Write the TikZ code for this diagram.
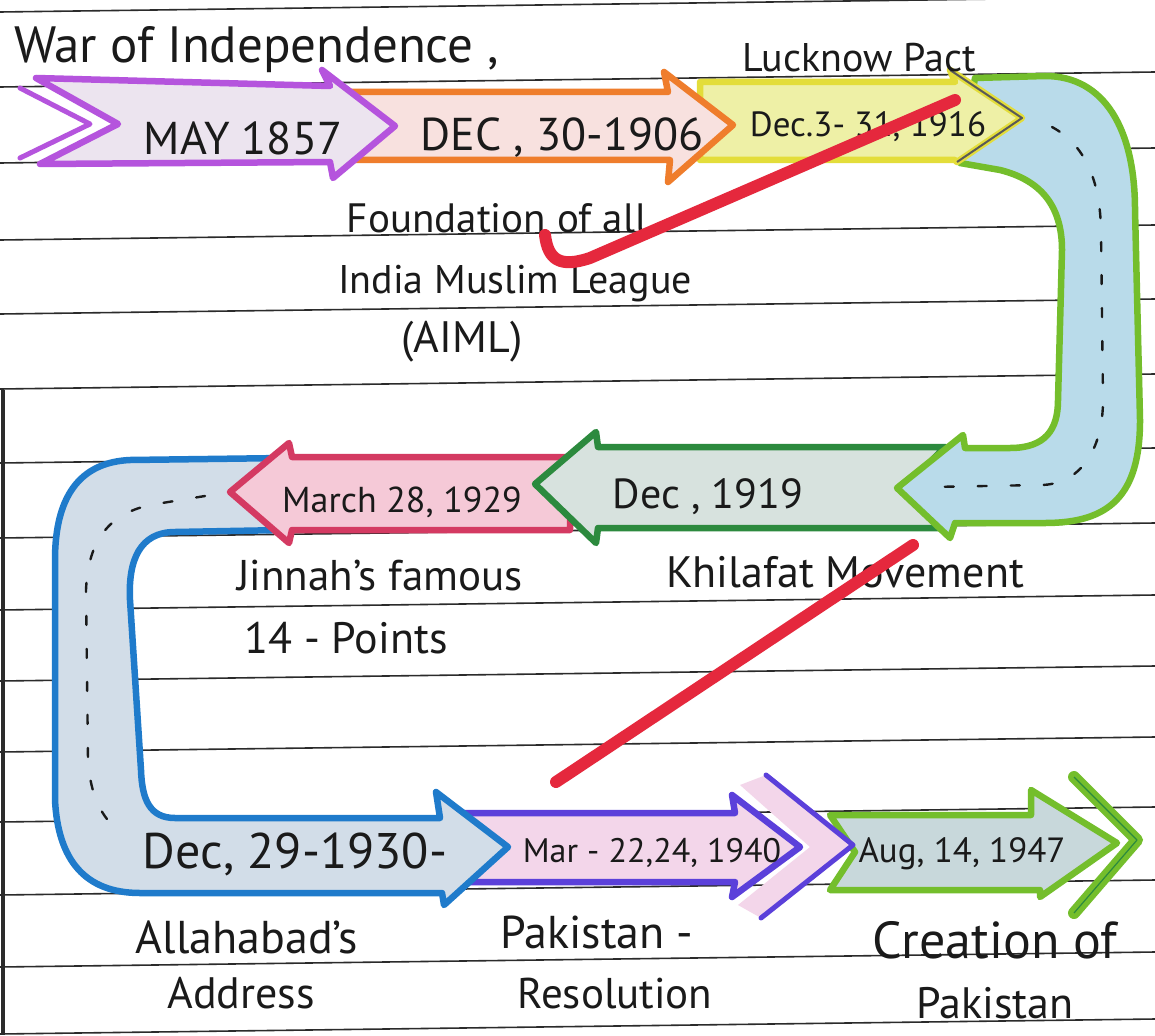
\documentclass[tikz,border=0pt]{standalone}
\usepackage{fontspec}
\setmainfont{PT Sans}
\usetikzlibrary{calc}
\definecolor{inkBlack}{HTML}{1A1A1A}
\definecolor{rulerGray}{HTML}{2B2B2B}
\definecolor{penPurple}{HTML}{B554DD}
\definecolor{fillLavender}{HTML}{ECE4EF}
\definecolor{penOrange}{HTML}{EF7D2C}
\definecolor{fillBlush}{HTML}{F8E1DF}
\definecolor{penYellow}{HTML}{E3DD3A}
\definecolor{fillYellow}{HTML}{EEF0A6}
\definecolor{penLime}{HTML}{74BE2C}
\definecolor{fillSky}{HTML}{B9DBEA}
\definecolor{penForest}{HTML}{2C8A3E}
\definecolor{fillSage}{HTML}{D7E2DE}
\definecolor{penCrimson}{HTML}{D43A62}
\definecolor{fillRose}{HTML}{F5C9D7}
\definecolor{penBlue}{HTML}{1F7BCB}
\definecolor{fillMist}{HTML}{D2DDE8}
\definecolor{penViolet}{HTML}{5B40DA}
\definecolor{fillPinkish}{HTML}{F3D6EA}
\definecolor{fillTeal}{HTML}{C8D8DB}
\definecolor{markRed}{HTML}{E5283D}
\newcommand{\handsize}[1]{\fontsize{#1}{#1}\selectfont}

\begin{document}
\begin{tikzpicture}[x=1pt, y=-1pt, line join=round,
  ruled/.style={rulerGray, line width=1.6pt},
  marker/.style={line width=6.5pt, line join=round},
  handtext/.style={inkBlack, inner sep=0pt, anchor=base},
  centredash/.style={inkBlack, line width=2.4pt, dash pattern=on 9pt off 24pt, line cap=round},
  redstroke/.style={markRed, line width=12pt, line cap=round, line join=round}]

  \useasboundingbox (0,0) rectangle (1155,1035);
  \fill[white] (0,0) rectangle (1155,1035);
  \clip (0,0) rectangle (1155,1035);

  %% --- Ruled notebook paper ---
  \foreach \y in {12, 87, 163, 240, 314, 389, 463, 538, 610, 681, 752, 822, 895, 967, 1034} {
    \draw[ruled] (0,\y) -- (1155,\y-15);
  }
  \draw[rulerGray, line width=4pt] (3,390) -- (3,1035);

  %% --- Bottom row: green, pink chevron, violet ---
  \draw[marker, penLime, fill=fillTeal]
    (830,815) -- (1031,815) -- (1031,790) -- (1117,843) -- (1040,897)
    -- (1040,890) -- (830,890) -- (855,852) -- cycle;
  \draw[penLime, line width=12pt, line cap=round] (1074,777) -- (1137,840) -- (1074,913);
  \draw[penForest, line width=1.2pt] (1074,777) -- (1137,840) -- (1074,913);

  \fill[fillPinkish] (740,785) -- (766,775) -- (853,845) -- (761,918) -- (738,905) -- (810,847) -- cycle;
  \draw[penViolet, line width=5pt, line cap=round] (766,775) -- (853,845) -- (761,918);

  \draw[marker, penViolet, fill=fillPinkish]
    (463,813) -- (735,813) -- (732,795) -- (800,847) -- (732,897)
    -- (735,882) -- (463,882) -- cycle;

  %% --- Left connector running into the Dec 1930 arrow ---
  \draw[marker, penBlue, fill=fillMist]
    (285,458) -- (130,460) .. controls (85,462) and (55,490) .. (55,560)
    -- (55,800) .. controls (58,860) and (85,893) .. (140,893)
    -- (442,893) -- (444,905) -- (508,847) -- (436,792) -- (440,818)
    -- (175,818) .. controls (150,818) and (142,800) .. (141,770)
    -- (130,600) .. controls (128,560) and (140,532) .. (175,532)
    -- (285,530) -- cycle;
  \draw[centredash] (205,496) -- (150,505) .. controls (105,515) and (88,545) .. (86,590)
    -- (88,760) .. controls (90,790) and (98,810) .. (112,825);

  %% --- Middle row: pink, then green ---
  \draw[marker, penCrimson, fill=fillRose]
    (570,457) -- (292,457) -- (289,443) -- (230,492) -- (289,543)
    -- (292,530) -- (570,530) -- cycle;
  \draw[marker, penForest, fill=fillSage]
    (945,447) -- (598,447) -- (596,432) -- (535,484) -- (596,543)
    -- (598,528) -- (945,528) -- (905,488) -- cycle;

  %% --- Right connector ---
  \draw[marker, penLime, fill=fillSky]
    (975,78) -- (1045,76) .. controls (1105,76) and (1135,130) .. (1135,210)
    -- (1140,420) .. controls (1140,495) and (1110,523) .. (1045,523)
    -- (955,523) -- (950,538) -- (897,488) -- (963,435) -- (965,448)
    -- (1010,448) .. controls (1045,448) and (1058,430) .. (1058,400)
    -- (1062,250) .. controls (1062,205) and (1040,180) .. (1000,170)
    -- (960,163) -- cycle;
  \draw[centredash] (1052,127) .. controls (1085,145) and (1100,180) .. (1101,230)
    -- (1103,400) .. controls (1103,450) and (1080,485) .. (1040,485) -- (930,487);

  %% --- Top row: yellow, orange, purple ---
  \draw[marker, penYellow, fill=fillYellow]
    (700,82) -- (955,82) -- (950,70) -- (1022,118) -- (957,162)
    -- (955,160) -- (700,160) -- cycle;
  \draw[gray!70!black, line width=2pt] (950,70) -- (1022,118) -- (957,162);
  \draw[marker, penOrange, fill=fillBlush]
    (345,92) -- (668,92) -- (664,72) -- (733,125) -- (668,182)
    -- (670,160) -- (345,160) -- cycle;
  \draw[marker, penPurple, fill=fillLavender]
    (36,78) -- (330,86) -- (322,70) -- (395,126) -- (333,178)
    -- (330,162) -- (40,164) -- (118,124) -- cycle;
  \draw[penPurple, line width=5pt, line cap=round] (20,88) -- (90,124) -- (20,158);

  %% --- Dates on the arrows ---
  \node[handtext, font=\handsize{46}] (may) at (243,155) {MAY 1857};
  \node[handtext, font=\handsize{46}] (dec1906) at (562,150) {DEC , 30-1906};
  \node[handtext, font=\handsize{35}] (dec1916) at (868,137) {Dec.3- 31, 1916};
  \node[handtext, font=\handsize{42}] (dec1919) at (708,508) {Dec , 1919};
  \node[handtext, font=\handsize{36}] (mar1929) at (402,512) {March 28, 1929};
  \node[handtext, font=\handsize{50}] (dec1930) at (295,868) {Dec, 29-1930-};
  \node[handtext, font=\handsize{34}] (mar1940) at (652,862) {Mar - 22,24, 1940};
  \node[handtext, font=\handsize{35}] (aug1947) at (962,862) {Aug, 14, 1947};

  %% --- Event captions ---
  \node[handtext, font=\handsize{51}, anchor=base west] (war) at (14,63) {War of Independence ,};
  \node[handtext, font=\handsize{40}] (lucknow) at (859,72) {Lucknow Pact};
  \node[handtext, font=\handsize{41}] (found1) at (497,232) {Foundation of all};
  \node[handtext, font=\handsize{40}] (found2) at (515,293) {India Muslim League};
  \node[handtext, font=\handsize{44}] (aiml) at (462,352) {(AIML)};
  \node[handtext, font=\handsize{44}] (khilafat) at (845,587) {Khilafat Movement};
  \node[handtext, font=\handsize{43}] (jinnah1) at (380,590) {Jinnah's famous};
  \node[handtext, font=\handsize{44}] (jinnah2) at (346,653) {14 - Points};
  \node[handtext, font=\handsize{46}] (allah1) at (247,953) {Allahabad's};
  \node[handtext, font=\handsize{44}] (allah2) at (241,1008) {Address};
  \node[handtext, font=\handsize{46}] (pakres1) at (597,948) {Pakistan -};
  \node[handtext, font=\handsize{43}] (pakres2) at (615,1008) {Resolution};
  \node[handtext, font=\handsize{52}] (creation1) at (995,958) {Creation of};
  \node[handtext, font=\handsize{44}] (creation2) at (995,1018) {Pakistan};

  %% --- Red pen strokes over the page ---
  \draw[redstroke] (955,100) -- (590,258) .. controls (560,268) and (548,260) .. (545,235);
  \draw[redstroke] (913,545) -- (556,782);
\end{tikzpicture}
\end{document}
